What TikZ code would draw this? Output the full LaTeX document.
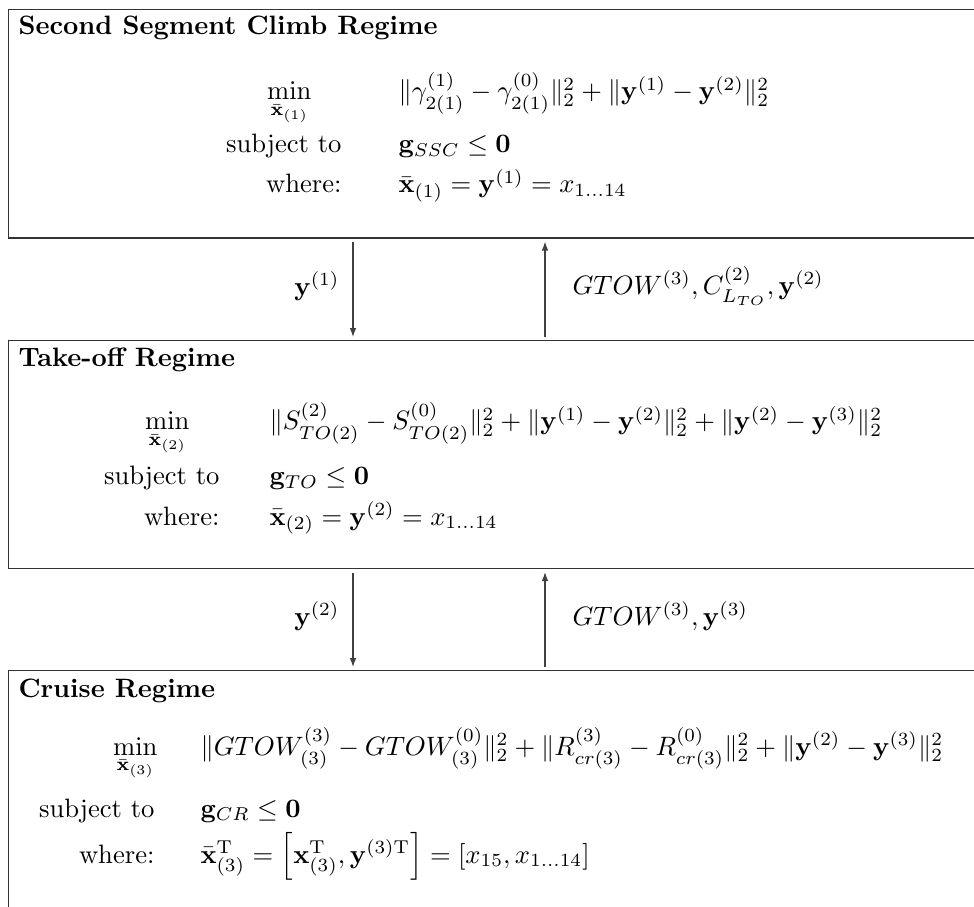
\documentclass[tikz,border=0pt]{standalone}
\usepackage{amsmath,amssymb}
\usetikzlibrary{arrows.meta}

\begin{document}
\begin{tikzpicture}[x=0.376pt,y=-0.376pt,
  regime/.style={draw=black!80,line width=0.45pt,rectangle,anchor=north west,inner sep=0pt},
  title/.style={anchor=base west,inner sep=0pt,font=\bfseries},
  lab/.style={anchor=base east,inner sep=0pt},
  expr/.style={anchor=base west,inner sep=0pt},
  flow/.style={draw=black!75,line width=0.45pt,-{Latex[length=3.4pt,width=2.5pt]},shorten >=1.1pt,shorten <=1.3pt},
  tag/.style={inner sep=0pt}]
\useasboundingbox (0,0) rectangle (974,907);
\clip (0,0) rectangle (974,907);

% the three regime boxes (right side runs past the page edge)
\node[regime,minimum width=369.2pt,minimum height=85.9pt] (ssc) at (8,9) {};
\node[regime,minimum width=369.2pt,minimum height=85.7pt] (tko) at (8,340) {};
\node[regime,minimum width=369.2pt,minimum height=94pt] (cru) at (8,670) {};

% columns of the exchange arrows
\coordinate (down) at (353,0);
\coordinate (up) at (545,0);

% Second segment climb
\node[title] (t1) at (18,35) {Second Segment Climb Regime};
\node[lab] (m1) at (312,100) {$\displaystyle\min_{\bar{\mathbf{x}}_{(1)}}$};
\node[expr] (f1) at (398,100) {$\|\gamma^{(1)}_{2(1)}-\gamma^{(0)}_{2(1)}\|_2^2+\|\mathbf{y}^{(1)}-\mathbf{y}^{(2)}\|_2^2$};
\node[lab] (s1) at (342,153) {subject to};
\node[expr] (g1) at (398,153) {$\mathbf{g}_{SSC}\leq\mathbf{0}$};
\node[lab] (w1) at (342,193) {where:};
\node[expr] (x1) at (398,193) {$\bar{\mathbf{x}}_{(1)}=\mathbf{y}^{(1)}=x_{1\ldots14}$};

% Take-off
\node[title] (t2) at (18,367) {Take-off Regime};
\node[lab] (m2) at (190,430) {$\displaystyle\min_{\bar{\mathbf{x}}_{(2)}}$};
\node[expr] (f2) at (269,430) {$\|S^{(2)}_{TO(2)}-S^{(0)}_{TO(2)}\|_2^2+\|\mathbf{y}^{(1)}-\mathbf{y}^{(2)}\|_2^2+\|\mathbf{y}^{(2)}-\mathbf{y}^{(3)}\|_2^2$};
\node[lab] (s2) at (220,485) {subject to};
\node[expr] (g2) at (269,485) {$\mathbf{g}_{TO}\leq\mathbf{0}$};
\node[lab] (w2) at (220,525) {where:};
\node[expr] (x2) at (269,525) {$\bar{\mathbf{x}}_{(2)}=\mathbf{y}^{(2)}=x_{1\ldots14}$};

% Cruise
\node[title] (t3) at (18,697) {Cruise Regime};
\node[lab] (m3) at (158,755) {$\displaystyle\min_{\bar{\mathbf{x}}_{(3)}}$};
\node[expr] (f3) at (200,755) {$\|GTOW^{(3)}_{(3)}-GTOW^{(0)}_{(3)}\|_2^2+\|R^{(3)}_{cr(3)}-R^{(0)}_{cr(3)}\|_2^2+\|\mathbf{y}^{(2)}-\mathbf{y}^{(3)}\|_2^2$};
\node[lab] (s3) at (155,817) {subject to};
\node[expr] (g3) at (200,817) {$\mathbf{g}_{CR}\leq\mathbf{0}$};
\node[lab] (w3) at (155,863) {where:};
\node[expr] (x3) at (200,863) {$\bar{\mathbf{x}}^{\mathrm{T}}_{(3)}=\left[\mathbf{x}^{\mathrm{T}}_{(3)},\mathbf{y}^{(3)\mathrm{T}}\right]=[x_{15},x_{1\ldots14}]$};

% exchanges between regimes
\draw[flow] (ssc.south -| down) -- (tko.north -| down);
\draw[flow] (tko.north -| up) -- (ssc.south -| up);
\draw[flow] (tko.south -| down) -- (cru.north -| down);
\draw[flow] (cru.north -| up) -- (tko.south -| up);

\node[tag,anchor=east] (a1) at (340,286) {$\mathbf{y}^{(1)}$};
\node[tag,anchor=west] (b1) at (572,286) {$GTOW^{(3)},C^{(2)}_{L_{TO}},\mathbf{y}^{(2)}$};
\node[tag,anchor=east] (a2) at (340,616) {$\mathbf{y}^{(2)}$};
\node[tag,anchor=west] (b2) at (572,616) {$GTOW^{(3)},\mathbf{y}^{(3)}$};
\end{tikzpicture}
\end{document}
